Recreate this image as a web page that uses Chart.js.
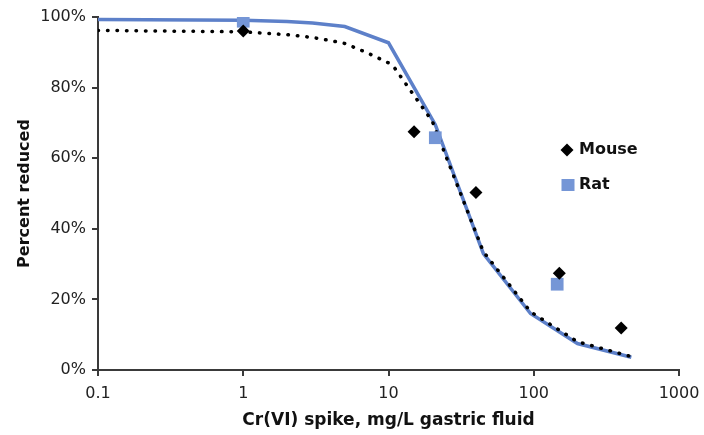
<!DOCTYPE html>
<html>
<head>
<meta charset="utf-8">
<script src="https://cdn.jsdelivr.net/npm/chart.js@4/dist/chart.umd.min.js"></script>
<style>
  html, body { margin: 0; padding: 0; background: #fff; }
  #wrap { width: 704px; height: 435px; position: relative; }
</style>
</head>
<body>
<div id="wrap"><canvas id="c"></canvas></div>
<script>
// ---- data ----
const mouseX = [1, 15, 40, 150, 400];
const mouseY = [96, 67.5, 50.3, 27.4, 11.9];
const ratX = [1, 21, 145];
const ratY = [98.8, 65.8, 24.3];
const mouseModelX = [0.1, 1, 2, 3, 4, 5, 7, 10, 11, 20, 45, 95, 200, 470];
const mouseModelY = [96.2, 95.8, 95, 94.2, 93.3, 92.5, 90, 87, 85.6, 70.5, 33.5, 16.5, 8, 3.8];
const ratModelX = [0.1, 1, 2, 3, 5, 10, 21, 45, 95, 200, 470];
const ratModelY = [99.3, 99.1, 98.7, 98.3, 97.3, 92.7, 69.5, 33, 16, 7.5, 3.6];
const xTickValues = [0.1, 1, 10, 100, 1000];
const xTickLabels = ['0.1', '1', '10', '100', '1000'];
const yTickValues = [0, 20, 40, 60, 80, 100];

const pts = (xs, ys) => xs.map((x, i) => ({ x: x, y: ys[i] }));

const FONT = "'DejaVu Sans', 'Open Sans', sans-serif";
const AXIS = '#3a3a3a';
const BLUE_LINE = '#5d80c9';
const BLUE_MARK = '#7596d6';

const legendPlugin = {
  id: 'insideLegend',
  afterDraw(chart) {
    const ctx = chart.ctx;
    ctx.save();
    // Mouse diamond
    ctx.fillStyle = '#000';
    ctx.beginPath();
    const dx = 567, dy = 150, r = 6.5;
    ctx.moveTo(dx - r, dy); ctx.lineTo(dx, dy - r); ctx.lineTo(dx + r, dy); ctx.lineTo(dx, dy + r);
    ctx.closePath(); ctx.fill();
    // Rat square
    const sy = 185;
    ctx.fillStyle = BLUE_MARK;
    ctx.fillRect(568 - 6.5, sy - 6, 13, 12);
    ctx.fillStyle = '#111';
    ctx.font = "bold 16px " + FONT;
    ctx.textBaseline = 'middle';
    ctx.textAlign = 'left';
    ctx.fillText(chart.data.datasets[0].label, 579, dy);
    ctx.fillText(chart.data.datasets[1].label, 579, sy);
    ctx.restore();
  }
};

new Chart(document.getElementById('c'), {
  type: 'scatter',
  data: {
    datasets: [
      {
        label: 'Mouse',
        data: pts(mouseX, mouseY),
        pointStyle: 'rectRot',
        pointRadius: 6.5,
        pointBackgroundColor: '#000',
        pointBorderColor: '#000',
        pointBorderWidth: 0,
        showLine: false
      },
      {
        label: 'Rat',
        data: pts(ratX, ratY),
        pointStyle: 'rect',
        pointRadius: 9,
        pointBackgroundColor: BLUE_MARK,
        pointBorderColor: BLUE_MARK,
        pointBorderWidth: 0,
        showLine: false
      },
      {
        label: 'Mouse model',
        data: pts(mouseModelX, mouseModelY),
        showLine: true,
        borderColor: '#000',
        borderWidth: 3.5,
        borderDash: [0.5, 9],
        borderCapStyle: 'round',
        pointRadius: 0,
        tension: 0
      },
      {
        label: 'Rat model',
        data: pts(ratModelX, ratModelY),
        showLine: true,
        borderColor: BLUE_LINE,
        borderWidth: 3.5,
        pointRadius: 0,
        tension: 0
      }
    ]
  },
  options: {
    responsive: true,
    maintainAspectRatio: false,
    animation: false,
    layout: { padding: { top: 17, right: 25, left: 0, bottom: 0 } },
    plugins: { legend: { display: false }, tooltip: { enabled: false } },
    scales: {
      x: {
        type: 'logarithmic',
        min: 0.1,
        max: 1000,
        afterBuildTicks(scale) { scale.ticks = xTickValues.map(v => ({ value: v })); },
        afterFit(scale) { scale.height = 65; scale.paddingLeft = 0; scale.paddingRight = 0; },
        ticks: {
          autoSkip: false,
          maxRotation: 0,
          padding: 8,
          color: '#222',
          font: { family: FONT, size: 16 },
          callback: (v, i) => xTickLabels[i]
        },
        grid: { drawOnChartArea: false, drawTicks: true, tickLength: 6, color: AXIS, lineWidth: 2 },
        border: { display: true, color: AXIS, width: 2 },
        title: {
          display: true,
          text: 'Cr(VI) spike, mg/L gastric fluid',
          color: '#111',
          font: { family: FONT, size: 17, weight: 'bold' },
          padding: { top: 0, bottom: 4 }
        }
      },
      y: {
        min: 0,
        max: 100,
        afterBuildTicks(scale) { scale.ticks = yTickValues.map(v => ({ value: v })); },
        afterFit(scale) { scale.width = 98; scale.paddingTop = 0; scale.paddingBottom = 0; },
        ticks: {
          padding: 6,
          color: '#222',
          font: { family: FONT, size: 16 },
          callback: v => v + '%'
        },
        grid: { drawOnChartArea: false, drawTicks: true, tickLength: 6, color: AXIS, lineWidth: 2 },
        border: { display: true, color: AXIS, width: 2 },
        title: {
          display: true,
          text: 'Percent reduced',
          color: '#111',
          font: { family: FONT, size: 16, weight: 'bold' },
          padding: { top: 15, bottom: 0 }
        }
      }
    }
  },
  plugins: [legendPlugin]
});
</script>
</body>
</html>
